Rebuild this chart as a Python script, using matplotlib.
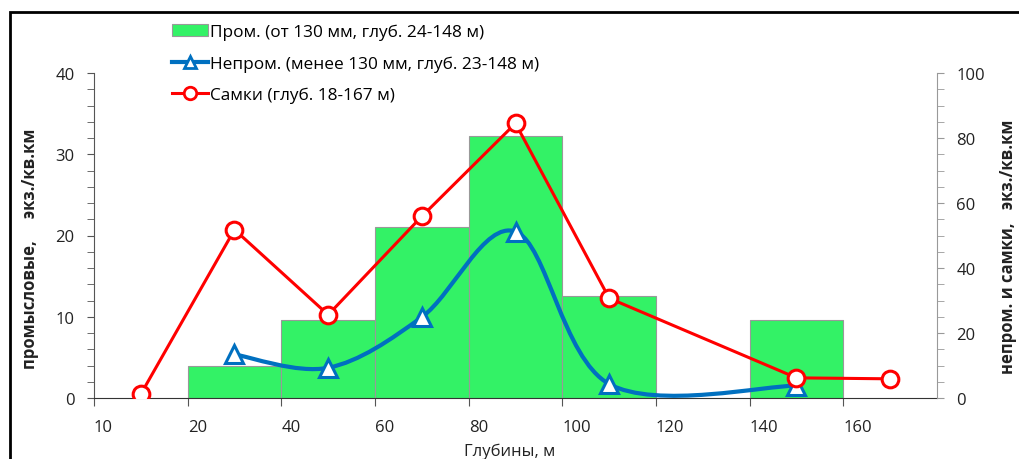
import matplotlib
matplotlib.use("Agg")
import matplotlib.pyplot as plt
from matplotlib.path import Path
from matplotlib.patches import PathPatch, Rectangle
from matplotlib.lines import Line2D
from matplotlib.ticker import MultipleLocator

plt.rcParams['font.family'] = ['Open Sans', 'DejaVu Sans']

# промысловые (left axis), histogram bins of 20 m
prom_left = [20, 40, 60, 80, 100, 140]
prom_vals = [4.0, 9.6, 21.0, 32.3, 12.6, 9.6]

# непромысловые (right axis)
neprom_x = [30, 50, 70, 90, 110, 150]
neprom_vals = [13.4, 9.3, 24.9, 51.2, 4.3, 3.8]

# самки (right axis)
samki_x = [10, 30, 50, 70, 90, 110, 150, 170]
samki_vals = [1.2, 51.8, 25.6, 55.9, 84.5, 30.7, 6.2, 5.9]

x_ticks = [0, 20, 40, 60, 80, 100, 120, 140, 160]
x_labels = ['10', '20', '40', '60', '80', '100', '120', '140', '160']

green = '#33F266'
blue = '#0070C0'
red = '#FF0000'


def smooth_path(xs, ys):
    # Excel-like smoothed line: cubic Bezier segments, tension 1/6
    pts = list(zip(xs, ys))
    n = len(pts)
    verts = [pts[0]]
    codes = [Path.MOVETO]
    for i in range(n - 1):
        p0 = pts[i - 1] if i > 0 else pts[i]
        p1 = pts[i]
        p2 = pts[i + 1]
        p3 = pts[i + 2] if i + 2 < n else pts[i + 1]
        c1 = (p1[0] + (p2[0] - p0[0]) / 6, p1[1] + (p2[1] - p0[1]) / 6)
        c2 = (p2[0] - (p3[0] - p1[0]) / 6, p2[1] - (p3[1] - p1[1]) / 6)
        verts += [c1, c2, p2]
        codes += [Path.CURVE4] * 3
    return Path(verts, codes)


fig = plt.figure(figsize=(10.19, 4.6), dpi=100)
ax = fig.add_axes([94 / 1019, 61 / 460, 843 / 1019, 325 / 460])
ax2 = ax.twinx()

ax.bar(prom_left, prom_vals, width=20, align='edge', color=green,
       edgecolor='#999999', linewidth=0.8)

ax2.add_patch(PathPatch(smooth_path(neprom_x, neprom_vals), facecolor='none',
                        edgecolor=blue, linewidth=3.0, capstyle='round'))
ax2.plot(neprom_x, neprom_vals, linestyle='none', marker='^', markersize=13,
         markerfacecolor='white', markeredgecolor=blue, markeredgewidth=2.2)
ax2.plot(samki_x, samki_vals, color=red, linewidth=2.2, marker='o',
         markersize=12, markerfacecolor='white', markeredgecolor=red,
         markeredgewidth=2.2)

ax.set_xlim(0, 180)
ax.set_ylim(0, 40)
ax2.set_ylim(0, 100)

ax.set_xticks(x_ticks)
ax.set_xticklabels(x_labels, ha='left')
ax.yaxis.set_major_locator(MultipleLocator(10))
ax.yaxis.set_minor_locator(MultipleLocator(2))
ax2.yaxis.set_major_locator(MultipleLocator(20))
ax2.yaxis.set_minor_locator(MultipleLocator(5))

for a in (ax, ax2):
    a.spines['top'].set_visible(False)
    a.tick_params(which='both', colors='#555555', labelcolor='#222222',
                  labelsize=12)
ax.spines['right'].set_visible(False)
ax2.spines['left'].set_visible(False)
ax2.spines['bottom'].set_visible(False)
ax.spines['left'].set_color('#555555')
ax.spines['bottom'].set_color('#333333')
ax2.spines['right'].set_color('#999999')
ax.tick_params(axis='x', length=6, pad=9)
ax.tick_params(axis='y', which='both', length=5, pad=9)
ax2.tick_params(axis='y', which='both', length=5, pad=9, colors='#999999',
                labelcolor='#222222')

fig.text(30 / 1019, 1 - 249 / 460, 'промысловые,     экз./кв.км',
         rotation=90, ha='center', va='center', fontsize=12,
         fontweight='bold', color='#222222')
fig.text(1008 / 1019, 1 - 247 / 460, 'непром. и самки,   экз./кв.км',
         rotation=90, ha='center', va='center', fontsize=12,
         fontweight='bold', color='#222222')
fig.text(510 / 1019, 1 - 452 / 460, 'Глубины, м', ha='center', va='center',
         fontsize=12, color='#222222')

handles = [
    Rectangle((0, 0), 1, 1, facecolor=green, edgecolor='#999999', linewidth=0.8),
    Line2D([], [], color=blue, linewidth=3.0, marker='^', markersize=9,
           markerfacecolor='white', markeredgecolor=blue, markeredgewidth=2),
    Line2D([], [], color=red, linewidth=2.2, marker='o', markersize=9,
           markerfacecolor='white', markeredgecolor=red, markeredgewidth=2),
]
labels = ['Пром. (от 130 мм, глуб. 24-148 м)',
          'Непром. (менее 130 мм, глуб. 23-148 м)',
          'Самки (глуб. 18-167 м)']
fig.legend(handles, labels, loc='upper left',
           bbox_to_anchor=(172 / 1019, 1 - 25 / 460), frameon=False,
           fontsize=12.4, handlelength=2.1, handletextpad=0.1,
           labelspacing=0.88, borderaxespad=0, borderpad=0)

fig.add_artist(Rectangle((10 / 1019, -0.1), 1.2, 1 - 13 / 460 + 0.1,
                         transform=fig.transFigure, fill=False,
                         edgecolor='black', linewidth=2))

fig.savefig('out.png', dpi=100)
